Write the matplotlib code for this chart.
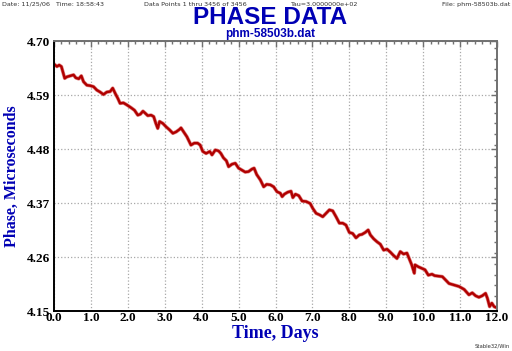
"""
Stable32-style phase plot: phm-58503b.dat, 12 days of phase data.
Values traced off the reference picture.
"""

import numpy as np
import matplotlib.pyplot as plt
from matplotlib.ticker import MultipleLocator

# ---------- Data (time in days, phase in microseconds) ----------
days = [
    0.00, 0.08, 0.14, 0.20, 0.24, 0.29, 0.35, 0.44, 0.53, 0.59, 0.67, 0.74,
    0.80, 0.89, 0.98, 1.07, 1.16, 1.25, 1.34, 1.43, 1.52, 1.59, 1.66, 1.73,
    1.79, 1.88, 1.97, 2.09, 2.18, 2.27, 2.34, 2.41, 2.47, 2.54, 2.63, 2.70,
    2.76, 2.81, 2.86, 2.95, 3.04, 3.13, 3.22, 3.31, 3.40, 3.44, 3.51, 3.60,
    3.71, 3.80, 3.89, 3.96, 4.03, 4.12, 4.22, 4.28, 4.37, 4.46, 4.52, 4.59,
    4.67, 4.73, 4.82, 4.91, 5.00, 5.09, 5.18, 5.27, 5.36, 5.42, 5.49, 5.59,
    5.68, 5.76, 5.86, 5.95, 6.04, 6.13, 6.18, 6.24, 6.33, 6.42, 6.47, 6.54,
    6.63, 6.72, 6.83, 6.94, 7.01, 7.10, 7.19, 7.28, 7.37, 7.46, 7.55, 7.64,
    7.73, 7.82, 7.91, 8.00, 8.09, 8.18, 8.27, 8.34, 8.43, 8.51, 8.57, 8.66,
    8.75, 8.84, 8.93, 9.02, 9.11, 9.20, 9.29, 9.38, 9.47, 9.56, 9.62, 9.69,
    9.76, 9.78, 9.87, 9.96, 10.05, 10.14, 10.24, 10.31, 10.52, 10.61, 10.70,
    10.84, 10.97, 11.11, 11.24, 11.33, 11.42, 11.51, 11.60, 11.69, 11.74,
    11.80, 11.86, 11.92, 11.98,
]
phase_us = [
    4.653, 4.648, 4.651, 4.648, 4.637, 4.624, 4.627, 4.629, 4.631, 4.625,
    4.623, 4.629, 4.617, 4.610, 4.609, 4.607, 4.600, 4.596, 4.591, 4.596,
    4.597, 4.604, 4.593, 4.583, 4.573, 4.574, 4.570, 4.564, 4.559, 4.549,
    4.551, 4.557, 4.553, 4.548, 4.549, 4.546, 4.532, 4.522, 4.536, 4.532,
    4.525, 4.519, 4.512, 4.515, 4.520, 4.523, 4.515, 4.505, 4.488, 4.492,
    4.492, 4.488, 4.475, 4.471, 4.475, 4.468, 4.478, 4.476, 4.471, 4.462,
    4.456, 4.444, 4.449, 4.451, 4.441, 4.437, 4.433, 4.434, 4.439, 4.441,
    4.428, 4.417, 4.403, 4.408, 4.407, 4.403, 4.393, 4.390, 4.383, 4.388,
    4.392, 4.394, 4.381, 4.388, 4.385, 4.374, 4.373, 4.369, 4.359, 4.349,
    4.346, 4.342, 4.349, 4.356, 4.354, 4.342, 4.329, 4.329, 4.325, 4.310,
    4.308, 4.299, 4.305, 4.306, 4.310, 4.315, 4.305, 4.297, 4.291, 4.286,
    4.274, 4.276, 4.270, 4.263, 4.257, 4.271, 4.266, 4.268, 4.257, 4.244,
    4.227, 4.244, 4.240, 4.237, 4.234, 4.223, 4.225, 4.222, 4.220, 4.213,
    4.206, 4.203, 4.200, 4.194, 4.183, 4.187, 4.181, 4.178, 4.181, 4.186,
    4.176, 4.159, 4.166, 4.159, 4.157,
]

x_ticks = np.arange(0, 13, 1.0)
y_ticks = [4.15, 4.26, 4.37, 4.48, 4.59, 4.70]

BLUE = '#0000b4'
SERIF = ['Liberation Serif', 'DejaVu Serif']
SANS = ['Liberation Sans', 'DejaVu Sans']

# ---------- Figure ----------
fig = plt.figure(figsize=(5.12, 3.51), dpi=100)
ax = fig.add_axes([54 / 512, 1 - 311 / 351, 443 / 512, 270 / 351])

ax.plot(days, phase_us, color='#e08080', linewidth=2.6, solid_joinstyle='round')
ax.plot(days, phase_us, color='#b00000', linewidth=1.7, solid_joinstyle='round')

ax.set_xlim(0, 12)
ax.set_ylim(4.15, 4.70)
ax.set_xticks(x_ticks)
ax.set_yticks(y_ticks)
ax.set_xticklabels([f'{v:.1f}' for v in x_ticks])
ax.set_yticklabels([f'{v:.2f}' for v in y_ticks])
ax.xaxis.set_minor_locator(MultipleLocator(0.2))
ax.yaxis.set_minor_locator(MultipleLocator(0.022))

ax.grid(True, which='major', linestyle=':', color='#a8a8a8', linewidth=0.9)

# frame: black left/bottom, gray top/right with inward ticks
for side in ('left', 'bottom'):
    ax.spines[side].set_color('black')
    ax.spines[side].set_linewidth(1.4)
for side in ('top', 'right'):
    ax.spines[side].set_color('#707070')
    ax.spines[side].set_linewidth(1.4)

ax.tick_params(which='both', direction='in', top=True, right=True,
               bottom=False, left=False, color='#707070', width=1.0)
ax.tick_params(which='major', length=4)
ax.tick_params(which='minor', length=2.5)
ax.tick_params(axis='x', pad=0.5)
ax.tick_params(axis='y', pad=3)
for lbl in ax.get_xticklabels() + ax.get_yticklabels():
    lbl.set_family(SERIF)
    lbl.set_fontsize(9.5)
    lbl.set_fontweight('bold')

ax.set_xlabel('Time, Days', family=SERIF, fontsize=13, fontweight='bold',
              color=BLUE, labelpad=1)
ax.set_ylabel('Phase, Microseconds', family=SERIF, fontsize=11.5,
              fontweight='bold', color=BLUE)
ax.yaxis.set_label_coords(-0.076, 0.5)

# ---------- Titles and header ----------
fig.text(0.527, 1 - 18 / 351, 'PHASE DATA', ha='center', va='center',
         family=SANS, fontsize=17.5, fontweight='bold', color=BLUE)
fig.text(0.527, 1 - 34 / 351, 'phm-58503b.dat', ha='center', va='center',
         family=SANS, fontsize=8.5, fontweight='bold', color=BLUE)

hdr = dict(fontsize=4.6, color='#303030', va='center', family=['DejaVu Sans'])
fig.text(2 / 512, 1 - 4.5 / 351, 'Date: 11/25/06   Time: 18:58:43', ha='left', **hdr)
fig.text(144 / 512, 1 - 4.5 / 351, 'Data Points 1 thru 3456 of 3456', ha='left', **hdr)
fig.text(290 / 512, 1 - 4.5 / 351, 'Tau=3.0000000e+02', ha='left', **hdr)
fig.text(510 / 512, 1 - 4.5 / 351, 'File: phm-58503b.dat', ha='right', **hdr)
fig.text(510 / 512, 1 - 346 / 351, 'Stable32/Win', ha='right',
         **dict(hdr, fontsize=3.8))

fig.savefig('out.png', dpi=100)
